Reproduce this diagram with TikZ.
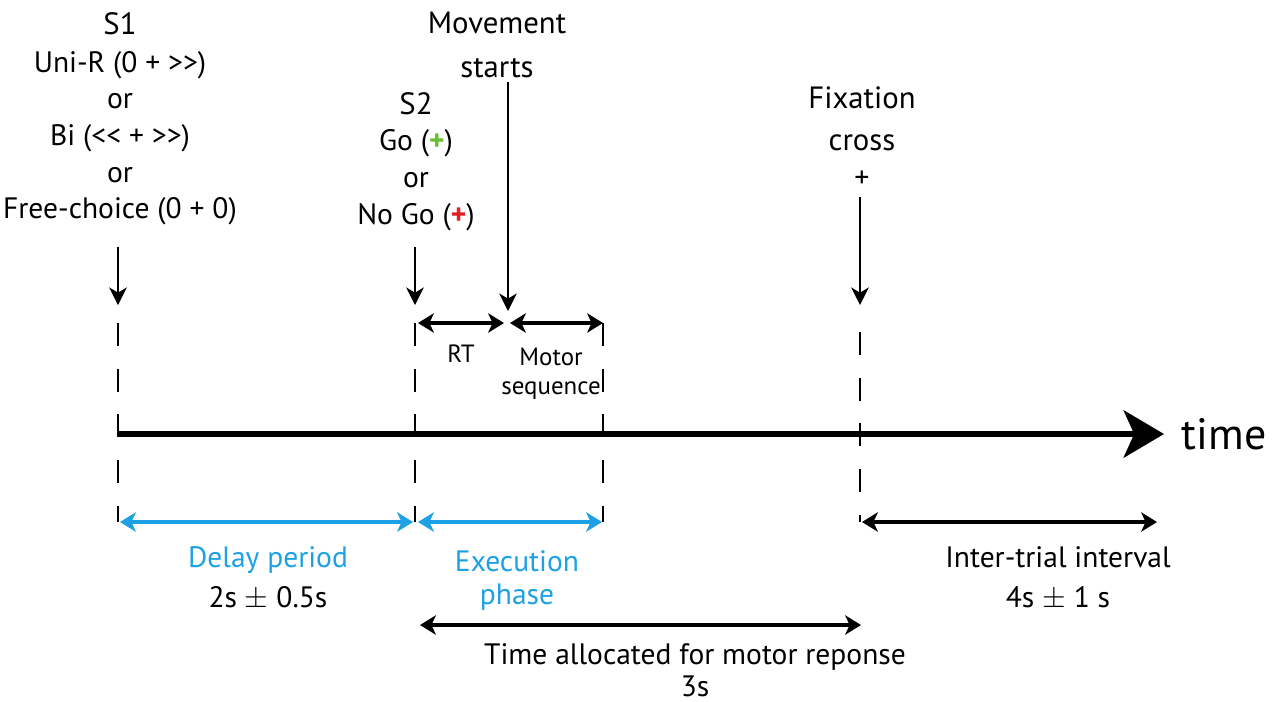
\documentclass[tikz,border=0pt]{standalone}
\usepackage{fontspec}
\setmainfont{PT Sans}
\usetikzlibrary{positioning,arrows.meta}
\definecolor{phaseblue}{RGB}{30,161,228}
\definecolor{gogreen}{RGB}{105,190,45}
\definecolor{nogored}{RGB}{225,30,35}
\tikzstyle{bigtxt}=[font=\fontsize{17.5}{20}\selectfont, inner sep=0pt, anchor=base]
\tikzstyle{midtxt}=[font=\fontsize{16.8}{19}\selectfont, inner sep=0pt, anchor=base]
\tikzstyle{smalltxt}=[font=\fontsize{14.2}{16}\selectfont, inner sep=0pt, anchor=base]
\tikzstyle{timetxt}=[font=\fontsize{25}{28}\selectfont, inner sep=0pt]
\tikzstyle{cue}=[-{Stealth[length=10pt,width=10pt,inset=3pt]}, line width=1.1pt]
\tikzstyle{spanarr}=[{Stealth[length=9pt,width=11pt,inset=2.5pt]}-{Stealth[length=9pt,width=11pt,inset=2.5pt]},
                    line width=2.2pt]
\tikzstyle{tick}=[-, line width=1.1pt, dash pattern=on 13pt off 13pt]
\tikzstyle{timeline}=[-{Stealth[length=23pt,width=27pt,inset=6pt]}, line width=2.9pt]

\begin{document}
\begin{tikzpicture}[x=0.02cm,y=-0.02cm]
\useasboundingbox (0,0) rectangle (1273,701);

% first cue
\node (S1) [bigtxt] at (120,34) {S1};
\node (UNIR) [midtxt] at (120,72) {Uni-R (0 + >{}>)};
\node (OR1) [midtxt] at (120,108) {or};
\node (BI) [midtxt] at (120,145) {Bi (<{}< + >{}>)};
\node (OR2) [midtxt] at (120,182) {or};
\node (FREE) [midtxt] at (120,218) {Free-choice (0 + 0)};
\coordinate (S1top) at (118,247);
\coordinate (S1tip) at (118,305);
 \draw[cue] (S1top) -- (S1tip);

% second cue
\node (S2) [bigtxt] at (416,114) {S2};
\node (GO) [midtxt] at (416,150) {Go ({\color{gogreen}\textbf{+}})};
\node (OR3) [midtxt] at (416,187) {or};
\node (NOGO) [midtxt] at (416,224) {No Go ({\color{nogored}\textbf{+}})};
\coordinate (S2top) at (415,247);
\coordinate (S2tip) at (415,305);
 \draw[cue] (S2top) -- (S2tip);

% movement onset
\node (MOV) [bigtxt] at (497,33) {Movement};
\node (STARTS) [bigtxt] at (497,77) {starts};
\coordinate (MVtop) at (508,82);
\coordinate (MVtip) at (508,311);
 \draw[cue] (MVtop) -- (MVtip);

% fixation
\node (FIX) [bigtxt] at (862,108) {Fixation};
\node (CROSS) [bigtxt] at (862,150) {cross};
\node (PLUS) [font=\fontsize{17}{19}\selectfont, inner sep=0pt] at (862,179) {+};
\coordinate (FXtop) at (860,197);
\coordinate (FXtip) at (860,305);
 \draw[cue] (FXtop) -- (FXtip);

% dashed markers
\coordinate (D1a) at (118,323);  \coordinate (D1b) at (118,522);
\coordinate (D2a) at (415,323);  \coordinate (D2b) at (415,522);
\coordinate (D3a) at (603,323);  \coordinate (D3b) at (603,522);
\coordinate (D4a) at (860,332);  \coordinate (D4b) at (860,522);
 \draw[tick] (D1a) -- (D1b);
 \draw[tick] (D2a) -- (D2b);
 \draw[tick] (D3a) -- (D3b);
 \draw[tick] (D4a) -- (D4b);

% time axis
\coordinate (T0) at (118,434);
\coordinate (T1) at (1164,434);
 \draw[timeline] (T0) -- (T1);
\node (TIME) [timetxt, anchor=west, right=10pt of T1] {time};

% RT and motor sequence
\coordinate (RTa) at (418,323);
\coordinate (RTb) at (504,323);
\coordinate (MSa) at (510,323);
\coordinate (MSb) at (603,323);
 \draw[spanarr] (RTa) -- (RTb);
 \draw[spanarr] (MSa) -- (MSb);
\node (RT) [smalltxt] at (461,362) {RT};
\node (MOTOR) [smalltxt] at (551,365) {Motor};
\node (SEQ) [smalltxt] at (551,394) {sequence};

% phases
\coordinate (DPa) at (120,522);
\coordinate (DPb) at (413,522);
\coordinate (EPa) at (418,522);
\coordinate (EPb) at (602,522);
\coordinate (ITa) at (862,522);
\coordinate (ITb) at (1157,522);
\coordinate (MRa) at (420,625);
\coordinate (MRb) at (861,625);
 \draw[spanarr, phaseblue] (DPa) -- (DPb);
 \draw[spanarr, phaseblue] (EPa) -- (EPb);
 \draw[spanarr] (ITa) -- (ITb);
 \draw[spanarr] (MRa) -- (MRb);
\node (DELAY) [midtxt, text=phaseblue] at (268,567) {Delay period};
\node (DELT) [midtxt] at (268,607) {2s $\pm$ 0.5s};
\node (EXEC) [midtxt, text=phaseblue] at (517,571) {Execution};
\node (PHASE) [midtxt, text=phaseblue] at (517,604) {phase};
\node (ITI) [midtxt] at (1058,567) {Inter-trial interval};
\node (ITIT) [midtxt] at (1058,607) {4s $\pm$ 1 s};
\node (ALLOC) [midtxt] at (695,664) {Time allocated for motor reponse};
\node (ALLOCT) [midtxt] at (695,696) {3s};

\end{tikzpicture}
\end{document}
